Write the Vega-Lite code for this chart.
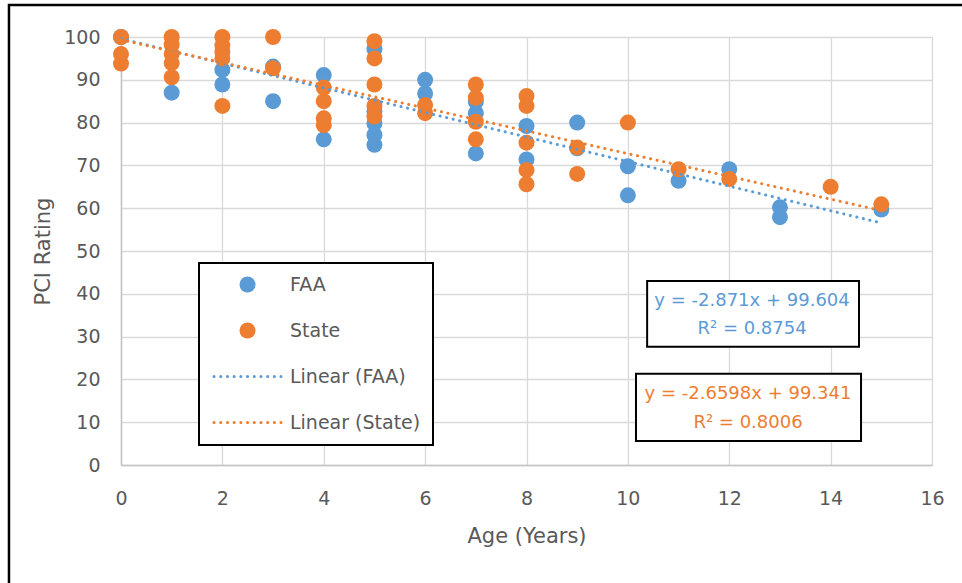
{
  "$schema": "https://vega.github.io/schema/vega-lite/v6.json",
  "width": 811,
  "height": 428,
  "autosize": {"type": "none"},
  "padding": {"left": 121, "top": 37, "right": 30, "bottom": 118},
  "background": "white",
  "config": {
    "font": "DejaVu Sans",
    "view": {"stroke": null},
    "point": {"size": 256},
    "axis": {
      "grid": true,
      "gridColor": "#d9d9d9",
      "gridWidth": 1.3,
      "domainColor": "#c4c4c4",
      "domainWidth": 1.5,
      "ticks": false,
      "tickSize": 0,
      "labelFlush": false,
      "labelFont": "DejaVu Sans",
      "labelFontSize": 19,
      "labelColor": "#595959",
      "titleFont": "DejaVu Sans",
      "titleFontSize": 21,
      "titleFontWeight": "normal",
      "titleColor": "#595959"
    }
  },
  "datasets": {
    "points": [
      {"age": 0, "pci": 100, "series": "FAA"},
      {"age": 1, "pci": 87, "series": "FAA"},
      {"age": 2, "pci": 92.3, "series": "FAA"},
      {"age": 2, "pci": 88.9, "series": "FAA"},
      {"age": 3, "pci": 93.1, "series": "FAA"},
      {"age": 3, "pci": 85, "series": "FAA"},
      {"age": 4, "pci": 91.1, "series": "FAA"},
      {"age": 4, "pci": 76.1, "series": "FAA"},
      {"age": 5, "pci": 97.2, "series": "FAA"},
      {"age": 5, "pci": 82.6, "series": "FAA"},
      {"age": 5, "pci": 79.8, "series": "FAA"},
      {"age": 5, "pci": 77.1, "series": "FAA"},
      {"age": 5, "pci": 74.8, "series": "FAA"},
      {"age": 6, "pci": 90, "series": "FAA"},
      {"age": 6, "pci": 86.8, "series": "FAA"},
      {"age": 7, "pci": 84.9, "series": "FAA"},
      {"age": 7, "pci": 82.2, "series": "FAA"},
      {"age": 7, "pci": 72.8, "series": "FAA"},
      {"age": 8, "pci": 79.2, "series": "FAA"},
      {"age": 8, "pci": 71.4, "series": "FAA"},
      {"age": 9, "pci": 80, "series": "FAA"},
      {"age": 9, "pci": 74, "series": "FAA"},
      {"age": 10, "pci": 69.8, "series": "FAA"},
      {"age": 10, "pci": 63, "series": "FAA"},
      {"age": 11, "pci": 66.4, "series": "FAA"},
      {"age": 12, "pci": 69.1, "series": "FAA"},
      {"age": 13, "pci": 60.2, "series": "FAA"},
      {"age": 13, "pci": 57.9, "series": "FAA"},
      {"age": 15, "pci": 59.7, "series": "FAA"},
      {"age": 0, "pci": 100, "series": "State"},
      {"age": 0, "pci": 96, "series": "State"},
      {"age": 0, "pci": 93.8, "series": "State"},
      {"age": 1, "pci": 100, "series": "State"},
      {"age": 1, "pci": 98.2, "series": "State"},
      {"age": 1, "pci": 96, "series": "State"},
      {"age": 1, "pci": 93.9, "series": "State"},
      {"age": 1, "pci": 90.6, "series": "State"},
      {"age": 2, "pci": 100, "series": "State"},
      {"age": 2, "pci": 98, "series": "State"},
      {"age": 2, "pci": 96.5, "series": "State"},
      {"age": 2, "pci": 95, "series": "State"},
      {"age": 2, "pci": 83.9, "series": "State"},
      {"age": 3, "pci": 100, "series": "State"},
      {"age": 3, "pci": 92.7, "series": "State"},
      {"age": 4, "pci": 88.2, "series": "State"},
      {"age": 4, "pci": 85, "series": "State"},
      {"age": 4, "pci": 81, "series": "State"},
      {"age": 4, "pci": 79.4, "series": "State"},
      {"age": 5, "pci": 99, "series": "State"},
      {"age": 5, "pci": 95, "series": "State"},
      {"age": 5, "pci": 88.9, "series": "State"},
      {"age": 5, "pci": 83.9, "series": "State"},
      {"age": 5, "pci": 81.4, "series": "State"},
      {"age": 6, "pci": 84.1, "series": "State"},
      {"age": 6, "pci": 82.2, "series": "State"},
      {"age": 7, "pci": 88.9, "series": "State"},
      {"age": 7, "pci": 85.8, "series": "State"},
      {"age": 7, "pci": 80.2, "series": "State"},
      {"age": 7, "pci": 76.1, "series": "State"},
      {"age": 8, "pci": 86.2, "series": "State"},
      {"age": 8, "pci": 83.9, "series": "State"},
      {"age": 8, "pci": 75.3, "series": "State"},
      {"age": 8, "pci": 68.9, "series": "State"},
      {"age": 8, "pci": 65.6, "series": "State"},
      {"age": 9, "pci": 74.2, "series": "State"},
      {"age": 9, "pci": 68, "series": "State"},
      {"age": 10, "pci": 80, "series": "State"},
      {"age": 11, "pci": 69.1, "series": "State"},
      {"age": 12, "pci": 66.8, "series": "State"},
      {"age": 14, "pci": 65, "series": "State"},
      {"age": 15, "pci": 60.9, "series": "State"}
    ],
    "trends": [
      {"age": 0, "pci": 99.604, "series": "Linear (FAA)"},
      {"age": 15, "pci": 56.539, "series": "Linear (FAA)"},
      {"age": 0, "pci": 99.341, "series": "Linear (State)"},
      {"age": 15, "pci": 59.444, "series": "Linear (State)"}
    ],
    "frame": [
      {"x1": -2.21, "x2": 17.5, "y1": 107.5, "y2": -30}
    ],
    "boxes": [
      {"series": "FAA", "x1": 10.38, "x2": 14.56, "y1": 43.0, "y2": 27.6},
      {"series": "State", "x1": 10.16, "x2": 14.6, "y1": 21.3, "y2": 5.6}
    ],
    "equations": [
      {"series": "FAA", "age": 12.45, "pci": 38.4, "text": "y = -2.871x + 99.604"},
      {"series": "FAA", "age": 12.45, "pci": 31.8, "text": "R² = 0.8754"},
      {"series": "State", "age": 12.37, "pci": 16.6, "text": "y = -2.6598x + 99.341"},
      {"series": "State", "age": 12.37, "pci": 9.9, "text": "R² = 0.8006"}
    ]
  },
  "layer": [
    {
      "data": {"name": "frame"},
      "mark": {"type": "rect", "fill": null, "stroke": "black", "strokeWidth": 2.5},
      "encoding": {
        "x": {"field": "x1", "type": "quantitative"},
        "x2": {"field": "x2"},
        "y": {"field": "y1", "type": "quantitative"},
        "y2": {"field": "y2"}
      }
    },
    {
      "data": {"name": "points"},
      "mark": {"type": "point", "filled": true, "opacity": 1},
      "encoding": {
        "x": {
          "field": "age", "type": "quantitative",
          "scale": {"domain": [0, 16], "nice": false},
          "axis": {"title": "Age (Years)", "values": [0, 2, 4, 6, 8, 10, 12, 14, 16], "labelPadding": 24, "titlePadding": 17}
        },
        "y": {
          "field": "pci", "type": "quantitative",
          "scale": {"domain": [0, 100], "nice": false},
          "axis": {"title": "PCI Rating", "values": [0, 10, 20, 30, 40, 50, 60, 70, 80, 90, 100], "labelPadding": 21, "titlePadding": 10}
        },
        "color": {
          "field": "series", "type": "nominal",
          "scale": {
            "domain": ["FAA", "State", "Linear (FAA)", "Linear (State)"],
            "range": ["#5B9BD5", "#ED7D31", "#5B9BD5", "#ED7D31"]
          },
          "legend": {
            "orient": "none",
            "legendX": 78,
            "legendY": 226,
            "title": null,
            "padding": 12,
            "strokeColor": "black",
            "fillColor": "white",
            "labelFont": "DejaVu Sans",
            "labelFontSize": 19,
            "labelColor": "#595959",
            "symbolSize": 256,
            "symbolOffset": 27,
            "labelOffset": 33,
            "rowPadding": 26,
            "encode": {
              "legend": {"update": {"strokeWidth": {"value": 2}}},
              "symbols": {"update": {
                "shape": {"signal": "test(/Linear/, datum.label) ? 'stroke' : 'circle'"},
                "size": {"signal": "test(/Linear/, datum.label) ? 4489 : 256"},
                "strokeDash": {"signal": "test(/Linear/, datum.label) ? [0.1, 6.6] : [1, 0]"},
                "strokeCap": {"value": "round"},
                "strokeWidth": {"signal": "test(/Linear/, datum.label) ? 3 : 0"},
                "fill": {"signal": "test(/Linear/, datum.label) ? 'transparent' : scale('color', datum.value)"},
                "stroke": {"signal": "scale('color', datum.value)"},
                "opacity": {"value": 1}
              }}
            }
          }
        }
      }
    },
    {
      "data": {"name": "trends"},
      "mark": {"type": "line", "strokeDash": [0.1, 6.6], "strokeCap": "round", "strokeWidth": 3},
      "encoding": {
        "x": {"field": "age", "type": "quantitative"},
        "y": {"field": "pci", "type": "quantitative"},
        "color": {
          "field": "series", "type": "nominal",
          "legend": {
            "orient": "none",
            "legendX": 78,
            "legendY": 226,
            "title": null,
            "padding": 12,
            "strokeColor": "black",
            "fillColor": "white",
            "labelFont": "DejaVu Sans",
            "labelFontSize": 19,
            "labelColor": "#595959",
            "symbolSize": 256,
            "symbolOffset": 27,
            "labelOffset": 33,
            "rowPadding": 26,
            "encode": {
              "legend": {"update": {"strokeWidth": {"value": 2}}},
              "symbols": {"update": {
                "shape": {"signal": "test(/Linear/, datum.label) ? 'stroke' : 'circle'"},
                "size": {"signal": "test(/Linear/, datum.label) ? 4489 : 256"},
                "strokeDash": {"signal": "test(/Linear/, datum.label) ? [0.1, 6.6] : [1, 0]"},
                "strokeCap": {"value": "round"},
                "strokeWidth": {"signal": "test(/Linear/, datum.label) ? 3 : 0"},
                "fill": {"signal": "test(/Linear/, datum.label) ? 'transparent' : scale('color', datum.value)"},
                "stroke": {"signal": "scale('color', datum.value)"},
                "opacity": {"value": 1}
              }}
            }
          }
        },
        "detail": {"field": "series"}
      }
    },
    {
      "data": {"name": "boxes"},
      "mark": {"type": "rect", "fill": "white", "stroke": "black", "strokeWidth": 2},
      "encoding": {
        "x": {"field": "x1", "type": "quantitative"},
        "x2": {"field": "x2"},
        "y": {"field": "y1", "type": "quantitative"},
        "y2": {"field": "y2"}
      }
    },
    {
      "data": {"name": "equations"},
      "transform": [{"filter": "datum.series === 'FAA'"}],
      "mark": {"type": "text", "font": "DejaVu Sans", "fontSize": 18, "color": "#5B9BD5", "align": "center", "baseline": "middle"},
      "encoding": {
        "x": {"field": "age", "type": "quantitative"},
        "y": {"field": "pci", "type": "quantitative"},
        "text": {"field": "text"}
      }
    },
    {
      "data": {"name": "equations"},
      "transform": [{"filter": "datum.series === 'State'"}],
      "mark": {"type": "text", "font": "DejaVu Sans", "fontSize": 18, "color": "#ED7D31", "align": "center", "baseline": "middle"},
      "encoding": {
        "x": {"field": "age", "type": "quantitative"},
        "y": {"field": "pci", "type": "quantitative"},
        "text": {"field": "text"}
      }
    }
  ]
}
